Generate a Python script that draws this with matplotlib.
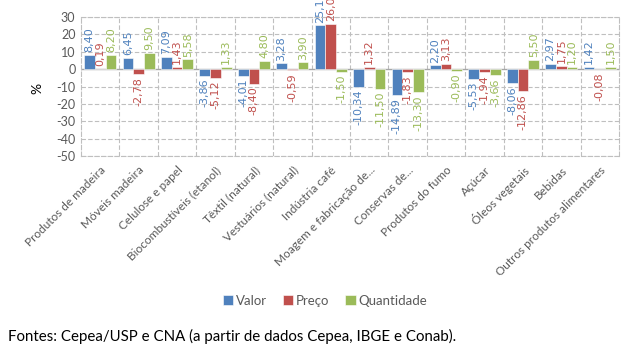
import matplotlib
matplotlib.use("Agg")
import matplotlib.pyplot as plt
import numpy as np

categories = ["Produtos de madeira", "Móveis madeira", "Celulose e papel",
              "Biocombustíveis (etanol)", "Têxtil (natural)", "Vestuários (natural)",
              "Indústria café", "Moagem e fabricação de...", "Conservas de...",
              "Produtos do fumo", "Açúcar", "Óleos vegetais", "Bebidas",
              "Outros produtos alimentares"]
valor = [8.40, 6.45, 7.09, -3.86, -4.01, 3.28, 25.17, -10.34, -14.89, 2.20, -5.53, -8.06, 2.97, 1.42]
preco = [0.19, -2.78, 1.43, -5.12, -8.40, -0.59, 26.06, 1.32, -1.83, 3.13, -1.94, -12.86, 1.75, -0.08]
quantidade = [8.20, 9.50, 5.58, 1.33, 4.80, 3.90, -1.50, -11.50, -13.30, -0.90, -3.66, 5.50, 1.20, 1.50]
series_names = ["Valor", "Preço", "Quantidade"]
yticks = list(range(-50, 31, 10))

colors = ["#4F81BD", "#C0504D", "#9BBB59"]
grid_c = "#BFBFBF"
text_c = "#595959"

fig = plt.figure(figsize=(6.28, 3.51), dpi=100)
W, H = 628, 351
ax = fig.add_axes([81 / W, 1 - 156 / H, (619 - 81) / W, (156 - 17) / H])

x = np.arange(len(categories))
width = 0.28
for k, (vals, name) in enumerate(zip([valor, preco, quantidade], series_names)):
    pos = x + (k - 1) * width
    ax.bar(pos, vals, width, color=colors[k], label=name, edgecolor="white", linewidth=0.4, zorder=3)
    # data labels outside bar end, rotated like the excel chart
    for px, v in zip(pos, vals):
        lab = f"{v:.2f}".replace(".", ",")
        ax.annotate(lab, (px, v), xytext=(0, 2 if v >= 0 else -2), textcoords="offset points",
                    rotation=90, ha="center", va="bottom" if v >= 0 else "top",
                    color=colors[k], fontsize=8, family="DejaVu Sans",
                    annotation_clip=False, zorder=4)

ax.set_xlim(-0.5, len(categories) - 0.5)
ax.set_ylim(-50, 30)
ax.set_yticks(yticks)
ax.set_yticklabels([str(t) for t in yticks], fontsize=9, color=text_c, family="Lato")
ax.set_xticks(x)
ax.set_xticklabels(categories, rotation=45, ha="right", rotation_mode="anchor",
                   fontsize=8.5, color=text_c, family="Lato")
ax.tick_params(length=0, pad=4)
ax.tick_params(axis="x", pad=6)

for yv in yticks:
    if yv != 0:
        ax.axhline(yv, color=grid_c, lw=0.8, ls=(0, (4, 2)), zorder=1)
for xv in np.arange(0.5, len(categories) - 1, 1):
    ax.axvline(xv, color=grid_c, lw=0.8, ls=(0, (4, 2)), zorder=1)
ax.axhline(0, color="#A6A6A6", lw=1.0, zorder=2)
for s in ax.spines.values():
    s.set_color(grid_c)
    s.set_linestyle((0, (4, 2)))
    s.set_linewidth(0.8)

fig.text(37 / W, 1 - 88 / H, "%", rotation=90, ha="center", va="center",
         fontsize=10, color="black", family="Lato")

leg = fig.legend(loc="center", bbox_to_anchor=(325 / W, 1 - 301 / H), ncol=3, frameon=False,
                 handlelength=0.8, handleheight=0.8, handletextpad=0.2, columnspacing=1.2,
                 prop={"family": "Lato", "size": 9.5})
for t in leg.get_texts():
    t.set_color(text_c)

fig.text(8 / W, 1 - 336 / H, "Fontes: Cepea/USP e CNA (a partir de dados Cepea, IBGE e Conab).",
         ha="left", va="center", fontsize=10.8, color="black", family="Lato")

fig.savefig("out.png", dpi=100)
